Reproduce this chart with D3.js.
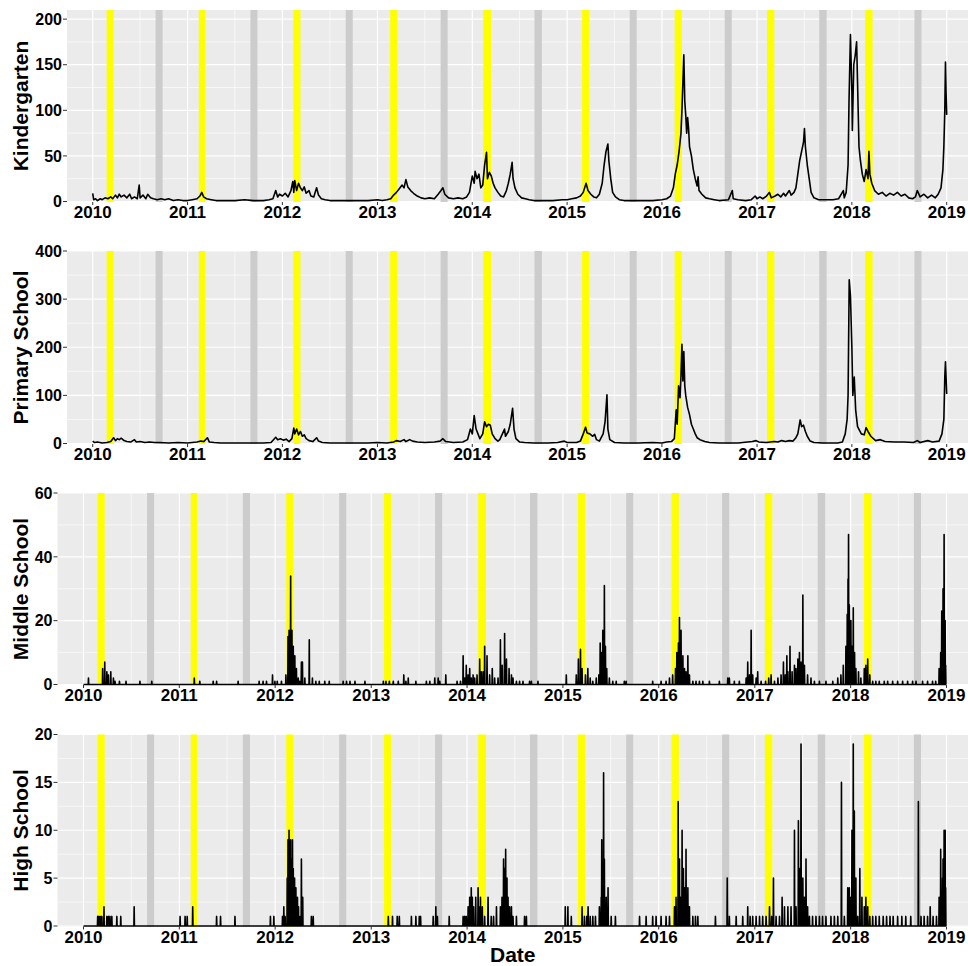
<!DOCTYPE html>
<html>
<head>
<meta charset="utf-8">
<script src="https://cdn.jsdelivr.net/npm/d3@7"></script>
<style>
  body { margin: 0; background: #fff; }
  text { font-family: "Liberation Sans", Arial, sans-serif; font-weight: bold; fill: #000; }
</style>
</head>
<body>
<div id="chart"></div>
<script>
// year ticks on the date axis
const years = [2010, 2011, 2012, 2013, 2014, 2015, 2016, 2017, 2018, 2019];

// holiday bands, decimal years
const springStart = [2010.147, 2011.119, 2012.116, 2013.134, 2014.116, 2015.158, 2016.134, 2017.105, 2018.140];
const springEnd   = [2010.221, 2011.186, 2012.190, 2013.207, 2014.197, 2015.232, 2016.210, 2017.182, 2018.218];
const autumnStart = [2010.663, 2011.663, 2012.666, 2013.666, 2014.656, 2015.660, 2016.660, 2017.656, 2018.660];
const autumnEnd   = [2010.737, 2011.737, 2012.740, 2013.740, 2014.734, 2015.734, 2016.734, 2017.734, 2018.734];

// [decimal year, cases]
const kindergarten = [
  [2010.00,9],[2010.01,2],[2010.03,3],[2010.05,1],[2010.08,3],[2010.10,2],[2010.13,4],[2010.16,3],[2010.19,5],[2010.21,3],
  [2010.24,7],[2010.26,4],[2010.28,8],[2010.30,5],[2010.33,7],[2010.36,4],[2010.39,8],[2010.41,3],[2010.44,5],[2010.47,3],
  [2010.49,18],[2010.50,4],[2010.53,7],[2010.56,3],[2010.58,8],[2010.61,4],[2010.64,3],[2010.68,2],[2010.72,3],[2010.76,2],
  [2010.80,3],[2010.85,1],[2010.90,2],[2010.95,1],[2011.00,1],[2011.05,2],[2011.10,3],[2011.13,6],[2011.15,10],[2011.17,5],
  [2011.20,3],[2011.25,2],[2011.30,1],[2011.40,1],[2011.50,1],[2011.60,2],[2011.70,1],[2011.80,1],[2011.86,2],[2011.90,3],
  [2011.93,12],[2011.95,5],[2011.97,8],[2012.00,6],[2012.03,9],[2012.06,5],[2012.09,12],[2012.11,22],[2012.12,10],[2012.13,23],
  [2012.15,12],[2012.17,20],[2012.19,15],[2012.21,12],[2012.23,16],[2012.25,9],[2012.28,12],[2012.30,6],[2012.33,5],[2012.36,15],
  [2012.38,7],[2012.41,3],[2012.45,2],[2012.50,1],[2012.60,1],[2012.70,1],[2012.80,1],[2012.90,1],[2013.00,2],[2013.05,1],
  [2013.10,2],[2013.14,3],[2013.17,7],[2013.20,10],[2013.23,14],[2013.26,18],[2013.28,15],[2013.30,24],[2013.32,16],[2013.35,12],
  [2013.38,9],[2013.42,6],[2013.46,4],[2013.50,3],[2013.55,4],[2013.60,3],[2013.64,8],[2013.67,12],[2013.69,15],[2013.71,8],
  [2013.75,4],[2013.80,3],[2013.85,4],[2013.90,3],[2013.94,5],[2013.97,10],[2014.00,28],[2014.02,20],[2014.03,33],[2014.05,25],
  [2014.07,30],[2014.09,15],[2014.11,18],[2014.13,40],[2014.15,54],[2014.16,25],[2014.18,32],[2014.20,28],[2014.22,20],[2014.24,15],
  [2014.27,10],[2014.30,6],[2014.33,5],[2014.36,12],[2014.38,20],[2014.40,30],[2014.42,43],[2014.43,25],[2014.45,15],[2014.48,8],
  [2014.52,4],[2014.56,3],[2014.60,2],[2014.65,1],[2014.75,1],[2014.85,1],[2014.95,2],[2015.00,2],[2015.05,3],[2015.10,4],
  [2015.14,6],[2015.17,10],[2015.20,20],[2015.22,12],[2015.25,8],[2015.28,5],[2015.31,4],[2015.34,8],[2015.37,20],[2015.39,40],
  [2015.41,55],[2015.43,63],[2015.44,45],[2015.46,25],[2015.48,10],[2015.51,5],[2015.55,2],[2015.60,1],[2015.70,1],[2015.80,1],
  [2015.90,1],[2016.00,2],[2016.05,3],[2016.09,6],[2016.12,15],[2016.14,30],[2016.16,40],[2016.18,55],[2016.20,75],[2016.21,100],
  [2016.22,130],[2016.23,161],[2016.24,110],[2016.25,95],[2016.26,75],[2016.27,92],[2016.28,80],[2016.29,60],[2016.31,50],[2016.33,35],
  [2016.35,25],[2016.37,17],[2016.38,27],[2016.39,12],[2016.42,8],[2016.46,4],[2016.50,3],[2016.55,2],[2016.60,1],[2016.70,2],
  [2016.74,12],[2016.75,3],[2016.80,2],[2016.88,1],[2016.94,2],[2016.98,6],[2017.00,3],[2017.03,5],[2017.06,3],[2017.10,6],
  [2017.13,10],[2017.15,4],[2017.19,6],[2017.22,8],[2017.25,5],[2017.28,9],[2017.30,6],[2017.34,12],[2017.36,7],[2017.39,10],
  [2017.41,15],[2017.43,30],[2017.45,45],[2017.47,55],[2017.49,65],[2017.50,80],[2017.51,60],[2017.53,40],[2017.55,25],[2017.57,10],
  [2017.60,4],[2017.65,2],[2017.72,2],[2017.80,2],[2017.86,3],[2017.91,12],[2017.92,4],[2017.94,10],[2017.96,40],[2017.97,111],
  [2017.985,183],[2018.00,120],[2018.005,78],[2018.02,150],[2018.035,160],[2018.05,175],[2018.06,130],[2018.075,60],[2018.09,45],[2018.11,30],
  [2018.13,22],[2018.15,35],[2018.17,25],[2018.18,55],[2018.19,30],[2018.21,20],[2018.24,12],[2018.28,8],[2018.32,10],[2018.36,6],
  [2018.40,9],[2018.44,7],[2018.48,10],[2018.52,6],[2018.56,8],[2018.60,4],[2018.64,3],[2018.67,5],[2018.69,12],[2018.72,5],
  [2018.76,8],[2018.80,4],[2018.84,7],[2018.88,4],[2018.91,8],[2018.94,15],[2018.96,35],[2018.97,60],[2018.98,100],[2018.987,153],
  [2018.993,120],[2019.00,95]
];

const primarySchool = [
  [2010.00,5],[2010.02,2],[2010.05,3],[2010.10,1],[2010.15,2],[2010.19,4],[2010.22,12],[2010.24,6],[2010.26,10],[2010.28,8],
  [2010.30,11],[2010.33,6],[2010.36,4],[2010.40,3],[2010.44,8],[2010.46,3],[2010.50,4],[2010.55,2],[2010.60,3],[2010.65,2],
  [2010.70,2],[2010.80,1],[2010.90,2],[2011.00,1],[2011.05,2],[2011.10,3],[2011.14,5],[2011.17,4],[2011.21,12],[2011.23,3],
  [2011.28,2],[2011.35,1],[2011.50,1],[2011.65,1],[2011.80,1],[2011.88,2],[2011.93,13],[2011.95,8],[2011.98,10],[2012.01,7],
  [2012.04,9],[2012.07,4],[2012.10,10],[2012.12,32],[2012.13,20],[2012.15,30],[2012.17,18],[2012.19,25],[2012.21,15],[2012.23,18],
  [2012.25,10],[2012.28,6],[2012.32,4],[2012.36,12],[2012.38,5],[2012.42,2],[2012.50,1],[2012.70,1],[2012.90,1],[2013.00,2],
  [2013.10,1],[2013.17,3],[2013.20,6],[2013.24,4],[2013.28,8],[2013.30,4],[2013.34,8],[2013.37,5],[2013.42,3],[2013.50,2],
  [2013.60,3],[2013.66,5],[2013.69,10],[2013.72,4],[2013.80,2],[2013.90,3],[2013.95,8],[2013.98,30],[2014.00,20],[2014.02,58],
  [2014.04,30],[2014.06,20],[2014.08,10],[2014.11,20],[2014.13,45],[2014.15,35],[2014.17,40],[2014.19,38],[2014.21,20],[2014.24,10],
  [2014.27,5],[2014.29,8],[2014.34,30],[2014.35,15],[2014.38,25],[2014.40,40],[2014.425,73],[2014.44,30],[2014.46,10],[2014.50,3],
  [2014.55,2],[2014.65,1],[2014.80,1],[2014.90,2],[2014.97,5],[2015.00,2],[2015.10,2],[2015.14,5],[2015.17,20],[2015.195,34],
  [2015.21,22],[2015.24,20],[2015.27,15],[2015.29,19],[2015.31,8],[2015.34,5],[2015.38,20],[2015.40,45],[2015.42,101],[2015.43,30],
  [2015.45,8],[2015.50,2],[2015.60,1],[2015.75,1],[2015.90,2],[2016.00,1],[2016.05,3],[2016.10,4],[2016.13,10],[2016.15,70],
  [2016.16,40],[2016.175,120],[2016.19,95],[2016.20,140],[2016.21,206],[2016.22,130],[2016.23,191],[2016.24,120],[2016.25,100],[2016.27,75],
  [2016.29,60],[2016.31,40],[2016.33,30],[2016.35,20],[2016.37,12],[2016.40,8],[2016.45,4],[2016.50,2],[2016.60,1],[2016.80,1],
  [2016.95,4],[2016.99,6],[2017.02,3],[2017.10,2],[2017.18,4],[2017.22,3],[2017.26,6],[2017.30,4],[2017.34,6],[2017.38,5],
  [2017.41,12],[2017.43,20],[2017.455,49],[2017.47,35],[2017.49,38],[2017.51,25],[2017.53,15],[2017.56,5],[2017.60,2],[2017.70,1],
  [2017.85,1],[2017.90,3],[2017.93,20],[2017.95,50],[2017.96,100],[2017.972,340],[2017.985,307],[2018.00,200],[2018.01,100],[2018.025,138],
  [2018.04,70],[2018.06,35],[2018.10,20],[2018.13,18],[2018.15,33],[2018.17,25],[2018.20,15],[2018.25,6],[2018.30,8],[2018.35,4],
  [2018.45,3],[2018.55,3],[2018.65,2],[2018.69,6],[2018.72,2],[2018.80,6],[2018.85,3],[2018.92,5],[2018.95,20],[2018.97,50],
  [2018.98,138],[2018.987,170],[2019.00,103]
];

// days with cases; every other day from 2010 to 2018 is zero
const middleSchool = [
  [2010.052,2],[2010.201,5],[2010.222,7],[2010.243,4],[2010.260,3],[2010.285,4],[2010.313,2],[2010.330,1],[2010.375,1],[2010.444,1],
  [2010.590,1],[2010.712,1],[2011.156,2],[2011.215,1],[2011.354,1],[2011.389,1],[2011.615,1],[2011.833,1],[2011.875,1],[2011.910,1],
  [2011.972,3],[2011.997,1],[2012.021,1],[2012.066,1],[2012.111,3],[2012.135,15],[2012.146,17],[2012.160,34],[2012.174,17],[2012.188,12],
  [2012.198,5],[2012.205,9],[2012.222,5],[2012.240,2],[2012.257,1],[2012.274,7],[2012.285,7],[2012.309,2],[2012.354,14],[2012.389,2],
  [2012.424,1],[2012.458,1],[2012.517,1],[2012.563,1],[2012.708,1],[2012.743,1],[2012.778,1],[2012.830,1],[2012.934,1],[2013.125,1],
  [2013.153,1],[2013.188,1],[2013.229,1],[2013.281,1],[2013.340,3],[2013.361,1],[2013.385,2],[2013.465,1],[2013.576,1],[2013.611,1],
  [2013.663,2],[2013.698,2],[2013.715,1],[2013.778,3],[2013.896,1],[2013.931,1],[2013.958,9],[2013.976,2],[2013.993,6],[2014.010,3],
  [2014.028,5],[2014.045,2],[2014.063,3],[2014.080,2],[2014.104,3],[2014.132,8],[2014.149,4],[2014.167,4],[2014.184,12],[2014.208,9],
  [2014.236,3],[2014.264,5],[2014.288,2],[2014.323,2],[2014.347,14],[2014.368,6],[2014.392,16],[2014.410,8],[2014.438,5],[2014.462,3],
  [2014.479,2],[2014.514,1],[2014.549,1],[2014.583,1],[2014.653,1],[2014.670,1],[2014.740,1],[2015.035,3],[2015.139,3],[2015.163,8],
  [2015.184,11],[2015.201,5],[2015.236,3],[2015.260,5],[2015.285,2],[2015.313,1],[2015.347,2],[2015.375,3],[2015.389,13],[2015.403,10],
  [2015.417,17],[2015.434,31],[2015.444,12],[2015.458,5],[2015.486,2],[2015.521,1],[2015.556,1],[2015.642,1],[2015.660,1],[2015.938,1],
  [2016.024,1],[2016.076,1],[2016.111,2],[2016.146,3],[2016.174,5],[2016.188,10],[2016.205,13],[2016.215,21],[2016.233,17],[2016.250,9],
  [2016.267,5],[2016.285,4],[2016.302,9],[2016.319,3],[2016.354,1],[2016.389,1],[2016.424,1],[2016.458,1],[2016.528,1],[2016.632,1],
  [2016.719,2],[2016.736,2],[2016.788,1],[2016.840,1],[2016.910,2],[2016.927,7],[2016.944,3],[2016.962,17],[2016.979,3],[2017.014,2],
  [2017.031,4],[2017.066,1],[2017.111,1],[2017.146,2],[2017.170,3],[2017.205,1],[2017.240,2],[2017.274,3],[2017.299,7],[2017.319,3],
  [2017.333,9],[2017.344,4],[2017.368,12],[2017.389,4],[2017.413,6],[2017.431,5],[2017.448,8],[2017.465,10],[2017.483,7],[2017.500,28],
  [2017.517,6],[2017.552,3],[2017.587,2],[2017.622,1],[2017.674,1],[2017.743,1],[2017.813,1],[2017.865,2],[2017.899,3],[2017.924,6],
  [2017.951,12],[2017.965,22],[2017.972,33],[2017.979,47],[2017.986,25],[2018.003,20],[2018.014,12],[2018.028,24],[2018.042,10],[2018.056,5],
  [2018.083,4],[2018.108,2],[2018.142,5],[2018.160,6],[2018.177,8],[2018.201,3],[2018.229,1],[2018.264,1],[2018.299,1],[2018.351,1],
  [2018.385,1],[2018.438,1],[2018.490,1],[2018.542,1],[2018.594,1],[2018.646,1],[2018.681,1],[2018.750,1],[2018.802,1],[2018.854,1],
  [2018.889,1],[2018.924,5],[2018.941,10],[2018.951,23],[2018.965,30],[2018.976,47],[2018.986,20],[2018.993,6]
];

const highSchool = [
  [2010.149,1],[2010.163,1],[2010.174,1],[2010.191,1],[2010.215,2],[2010.243,1],[2010.260,1],[2010.278,1],[2010.295,1],[2010.347,1],
  [2010.389,1],[2010.528,2],[2011.007,1],[2011.059,1],[2011.083,1],[2011.139,2],[2011.389,1],[2011.431,1],[2011.580,1],[2011.951,1],
  [2011.986,1],[2012.076,1],[2012.090,2],[2012.104,1],[2012.125,5],[2012.135,9],[2012.146,10],[2012.153,8],[2012.160,9],[2012.170,6],
  [2012.174,7],[2012.181,9],[2012.188,6],[2012.194,5],[2012.201,5],[2012.208,3],[2012.215,4],[2012.222,2],[2012.233,3],[2012.243,2],
  [2012.250,1],[2012.264,1],[2012.274,7],[2012.288,3],[2012.378,1],[2012.396,1],[2013.177,1],[2013.222,1],[2013.271,1],[2013.292,1],
  [2013.420,1],[2013.465,1],[2013.500,1],[2013.514,1],[2013.646,1],[2013.674,2],[2013.691,1],[2013.813,1],[2013.958,1],[2013.976,1],
  [2013.993,1],[2014.010,2],[2014.028,3],[2014.045,4],[2014.056,3],[2014.069,2],[2014.090,3],[2014.115,4],[2014.132,2],[2014.139,3],
  [2014.160,2],[2014.184,1],[2014.219,3],[2014.253,1],[2014.278,1],[2014.306,2],[2014.347,2],[2014.365,3],[2014.382,7],[2014.392,6],
  [2014.403,8],[2014.417,5],[2014.427,3],[2014.444,2],[2014.462,2],[2014.479,1],[2014.514,1],[2014.601,1],[2014.618,1],[2015.024,2],
  [2015.052,2],[2015.087,1],[2015.201,2],[2015.226,1],[2015.250,1],[2015.264,2],[2015.285,1],[2015.313,1],[2015.340,1],[2015.382,2],
  [2015.399,3],[2015.406,9],[2015.424,16],[2015.434,7],[2015.451,3],[2015.472,4],[2015.503,1],[2015.549,1],[2015.799,1],[2015.868,1],
  [2015.938,1],[2015.972,1],[2016.024,1],[2016.076,1],[2016.111,1],[2016.163,2],[2016.181,3],[2016.201,13],[2016.215,7],[2016.226,3],
  [2016.243,10],[2016.257,6],[2016.267,4],[2016.285,8],[2016.302,4],[2016.319,2],[2016.354,1],[2016.382,1],[2016.406,1],[2016.590,1],
  [2016.712,5],[2016.736,1],[2016.806,1],[2016.875,1],[2016.927,2],[2016.951,1],[2016.979,1],[2017.014,1],[2017.049,1],[2017.083,1],
  [2017.118,1],[2017.153,2],[2017.174,1],[2017.194,5],[2017.222,1],[2017.257,1],[2017.285,3],[2017.309,2],[2017.344,2],[2017.378,2],
  [2017.413,10],[2017.431,2],[2017.455,11],[2017.465,6],[2017.483,19],[2017.500,5],[2017.517,3],[2017.535,7],[2017.552,2],[2017.569,1],
  [2017.604,1],[2017.639,1],[2017.674,1],[2017.708,1],[2017.743,1],[2017.795,1],[2017.830,1],[2017.865,1],[2017.903,15],[2017.934,1],
  [2017.969,4],[2017.986,4],[2018.003,3],[2018.014,10],[2018.028,19],[2018.038,12],[2018.056,5],[2018.073,1],[2018.097,6],[2018.118,3],
  [2018.142,2],[2018.160,3],[2018.177,2],[2018.201,1],[2018.229,1],[2018.264,1],[2018.299,1],[2018.340,1],[2018.375,1],[2018.410,1],
  [2018.444,1],[2018.490,1],[2018.535,1],[2018.576,1],[2018.628,1],[2018.708,13],[2018.733,1],[2018.767,1],[2018.802,1],[2018.830,2],
  [2018.861,1],[2018.896,1],[2018.924,3],[2018.941,8],[2018.958,5],[2018.965,7],[2018.976,10],[2018.986,10],[2018.993,4]
];

const width = 968;
const height = 966;

function toDate(t) {
  const y = Math.floor(t);
  const a = new Date(y, 0, 1), b = new Date(y + 1, 0, 1);
  return new Date(+a + (t - y) * (b - a));
}

// sparse counts -> one value per day
function daily(events) {
  const byDay = new Map(events.map(([t, v]) => [+d3.timeDay.round(toDate(t)), v]));
  return d3.timeDay.range(new Date(2010, 0, 1), new Date(2019, 0, 1))
    .map(d => ({ date: d, v: byDay.get(+d) || 0 }));
}

const panels = [
  { title: 'Kindergarten', pts: kindergarten.map(([t, v]) => ({ date: toDate(t), v })),
    yMax: 210, major: [0, 50, 100, 150, 200], minor: [25, 75, 125, 175], left: 67, top: 10, zero: 201.5 },
  { title: 'Primary School', pts: primarySchool.map(([t, v]) => ({ date: toDate(t), v })),
    yMax: 400, major: [0, 100, 200, 300, 400], minor: [50, 150, 250, 350], left: 67, top: 251, zero: 443.5 },
  { title: 'Middle School', pts: daily(middleSchool),
    yMax: 60, major: [0, 20, 40, 60], minor: [10, 30, 50], left: 57.5, top: 493, zero: 684.5 },
  { title: 'High School', pts: daily(highSchool),
    yMax: 20, major: [0, 5, 10, 15, 20], minor: [2.5, 7.5, 12.5, 17.5], left: 57.5, top: 734.5, zero: 926 }
];

const svg = d3.create('svg')
  .attr('width', width)
  .attr('height', height);

const yearDates = years.map(y => new Date(y, 0, 1));
const midDates = years.map(y => new Date(y, 6, 2)).concat([new Date(2009, 6, 2)]);

panels.forEach(p => {
  const x = d3.scaleTime()
    .domain([new Date(2009, 8, 24), new Date(2019, 2, 24)])
    .range([p.left, width]);
  const y = d3.scaleLinear().domain([0, p.yMax]).range([p.zero, p.top]);
  const bottom = p.zero + 0.5;

  const g = svg.append('g');
  g.append('rect')
    .attr('x', p.left).attr('y', p.top)
    .attr('width', width - p.left).attr('height', bottom - p.top)
    .attr('fill', '#ebebeb');

  // grid
  g.selectAll('.ymin').data(p.minor).join('line')
    .attr('x1', p.left).attr('x2', width)
    .attr('y1', d => y(d)).attr('y2', d => y(d))
    .attr('stroke', '#fff').attr('stroke-width', 0.6);
  g.selectAll('.xmin').data(midDates).join('line')
    .attr('x1', d => x(d)).attr('x2', d => x(d))
    .attr('y1', p.top).attr('y2', bottom)
    .attr('stroke', '#fff').attr('stroke-width', 0.6);
  g.selectAll('.ymaj').data(p.major).join('line')
    .attr('x1', p.left).attr('x2', width)
    .attr('y1', d => y(d)).attr('y2', d => y(d))
    .attr('stroke', '#fff').attr('stroke-width', 1.2);
  g.selectAll('.xmaj').data(yearDates).join('line')
    .attr('x1', d => x(d)).attr('x2', d => x(d))
    .attr('y1', p.top).attr('y2', bottom)
    .attr('stroke', '#fff').attr('stroke-width', 1.2);

  // holiday bands
  g.selectAll('.spring').data(d3.zip(springStart, springEnd)).join('rect')
    .attr('x', d => x(toDate(d[0]))).attr('y', p.top)
    .attr('width', d => x(toDate(d[1])) - x(toDate(d[0]))).attr('height', bottom - p.top)
    .attr('fill', '#ffff00');
  g.selectAll('.autumn').data(d3.zip(autumnStart, autumnEnd)).join('rect')
    .attr('x', d => x(toDate(d[0]))).attr('y', p.top)
    .attr('width', d => x(toDate(d[1])) - x(toDate(d[0]))).attr('height', bottom - p.top)
    .attr('fill', '#cccccc');

  // series
  g.append('path')
    .datum(p.pts)
    .attr('fill', 'none')
    .attr('stroke', '#000')
    .attr('stroke-width', 1.6)
    .attr('stroke-linejoin', 'round')
    .attr('d', d3.line().x(d => x(d.date)).y(d => y(d.v)));

  // y axis
  g.selectAll('.ytick').data(p.major).join('line')
    .attr('x1', p.left - 4).attr('x2', p.left)
    .attr('y1', d => y(d)).attr('y2', d => y(d))
    .attr('stroke', '#333').attr('stroke-width', 1);
  g.selectAll('.ylab').data(p.major).join('text')
    .attr('x', p.left - 5).attr('y', d => y(d))
    .attr('dy', '0.36em')
    .attr('text-anchor', 'end')
    .style('font-size', '16px')
    .text(d => d);

  // x axis
  g.selectAll('.xtick').data(yearDates).join('line')
    .attr('x1', d => x(d)).attr('x2', d => x(d))
    .attr('y1', bottom).attr('y2', bottom + 3)
    .attr('stroke', '#333').attr('stroke-width', 1);
  g.selectAll('.xlab').data(yearDates).join('text')
    .attr('x', d => x(d)).attr('y', bottom + 16)
    .attr('text-anchor', 'middle')
    .style('font-size', '17px')
    .text(d => d.getFullYear());

  g.append('text')
    .attr('transform', `translate(28,${(p.top + bottom) / 2}) rotate(-90)`)
    .attr('text-anchor', 'middle')
    .style('font-size', '21px')
    .text(p.title);
});

svg.append('text')
  .attr('x', (57.5 + width) / 2).attr('y', 962)
  .attr('text-anchor', 'middle')
  .style('font-size', '21px')
  .text('Date');

document.getElementById('chart').appendChild(svg.node());
</script>
</body>
</html>
